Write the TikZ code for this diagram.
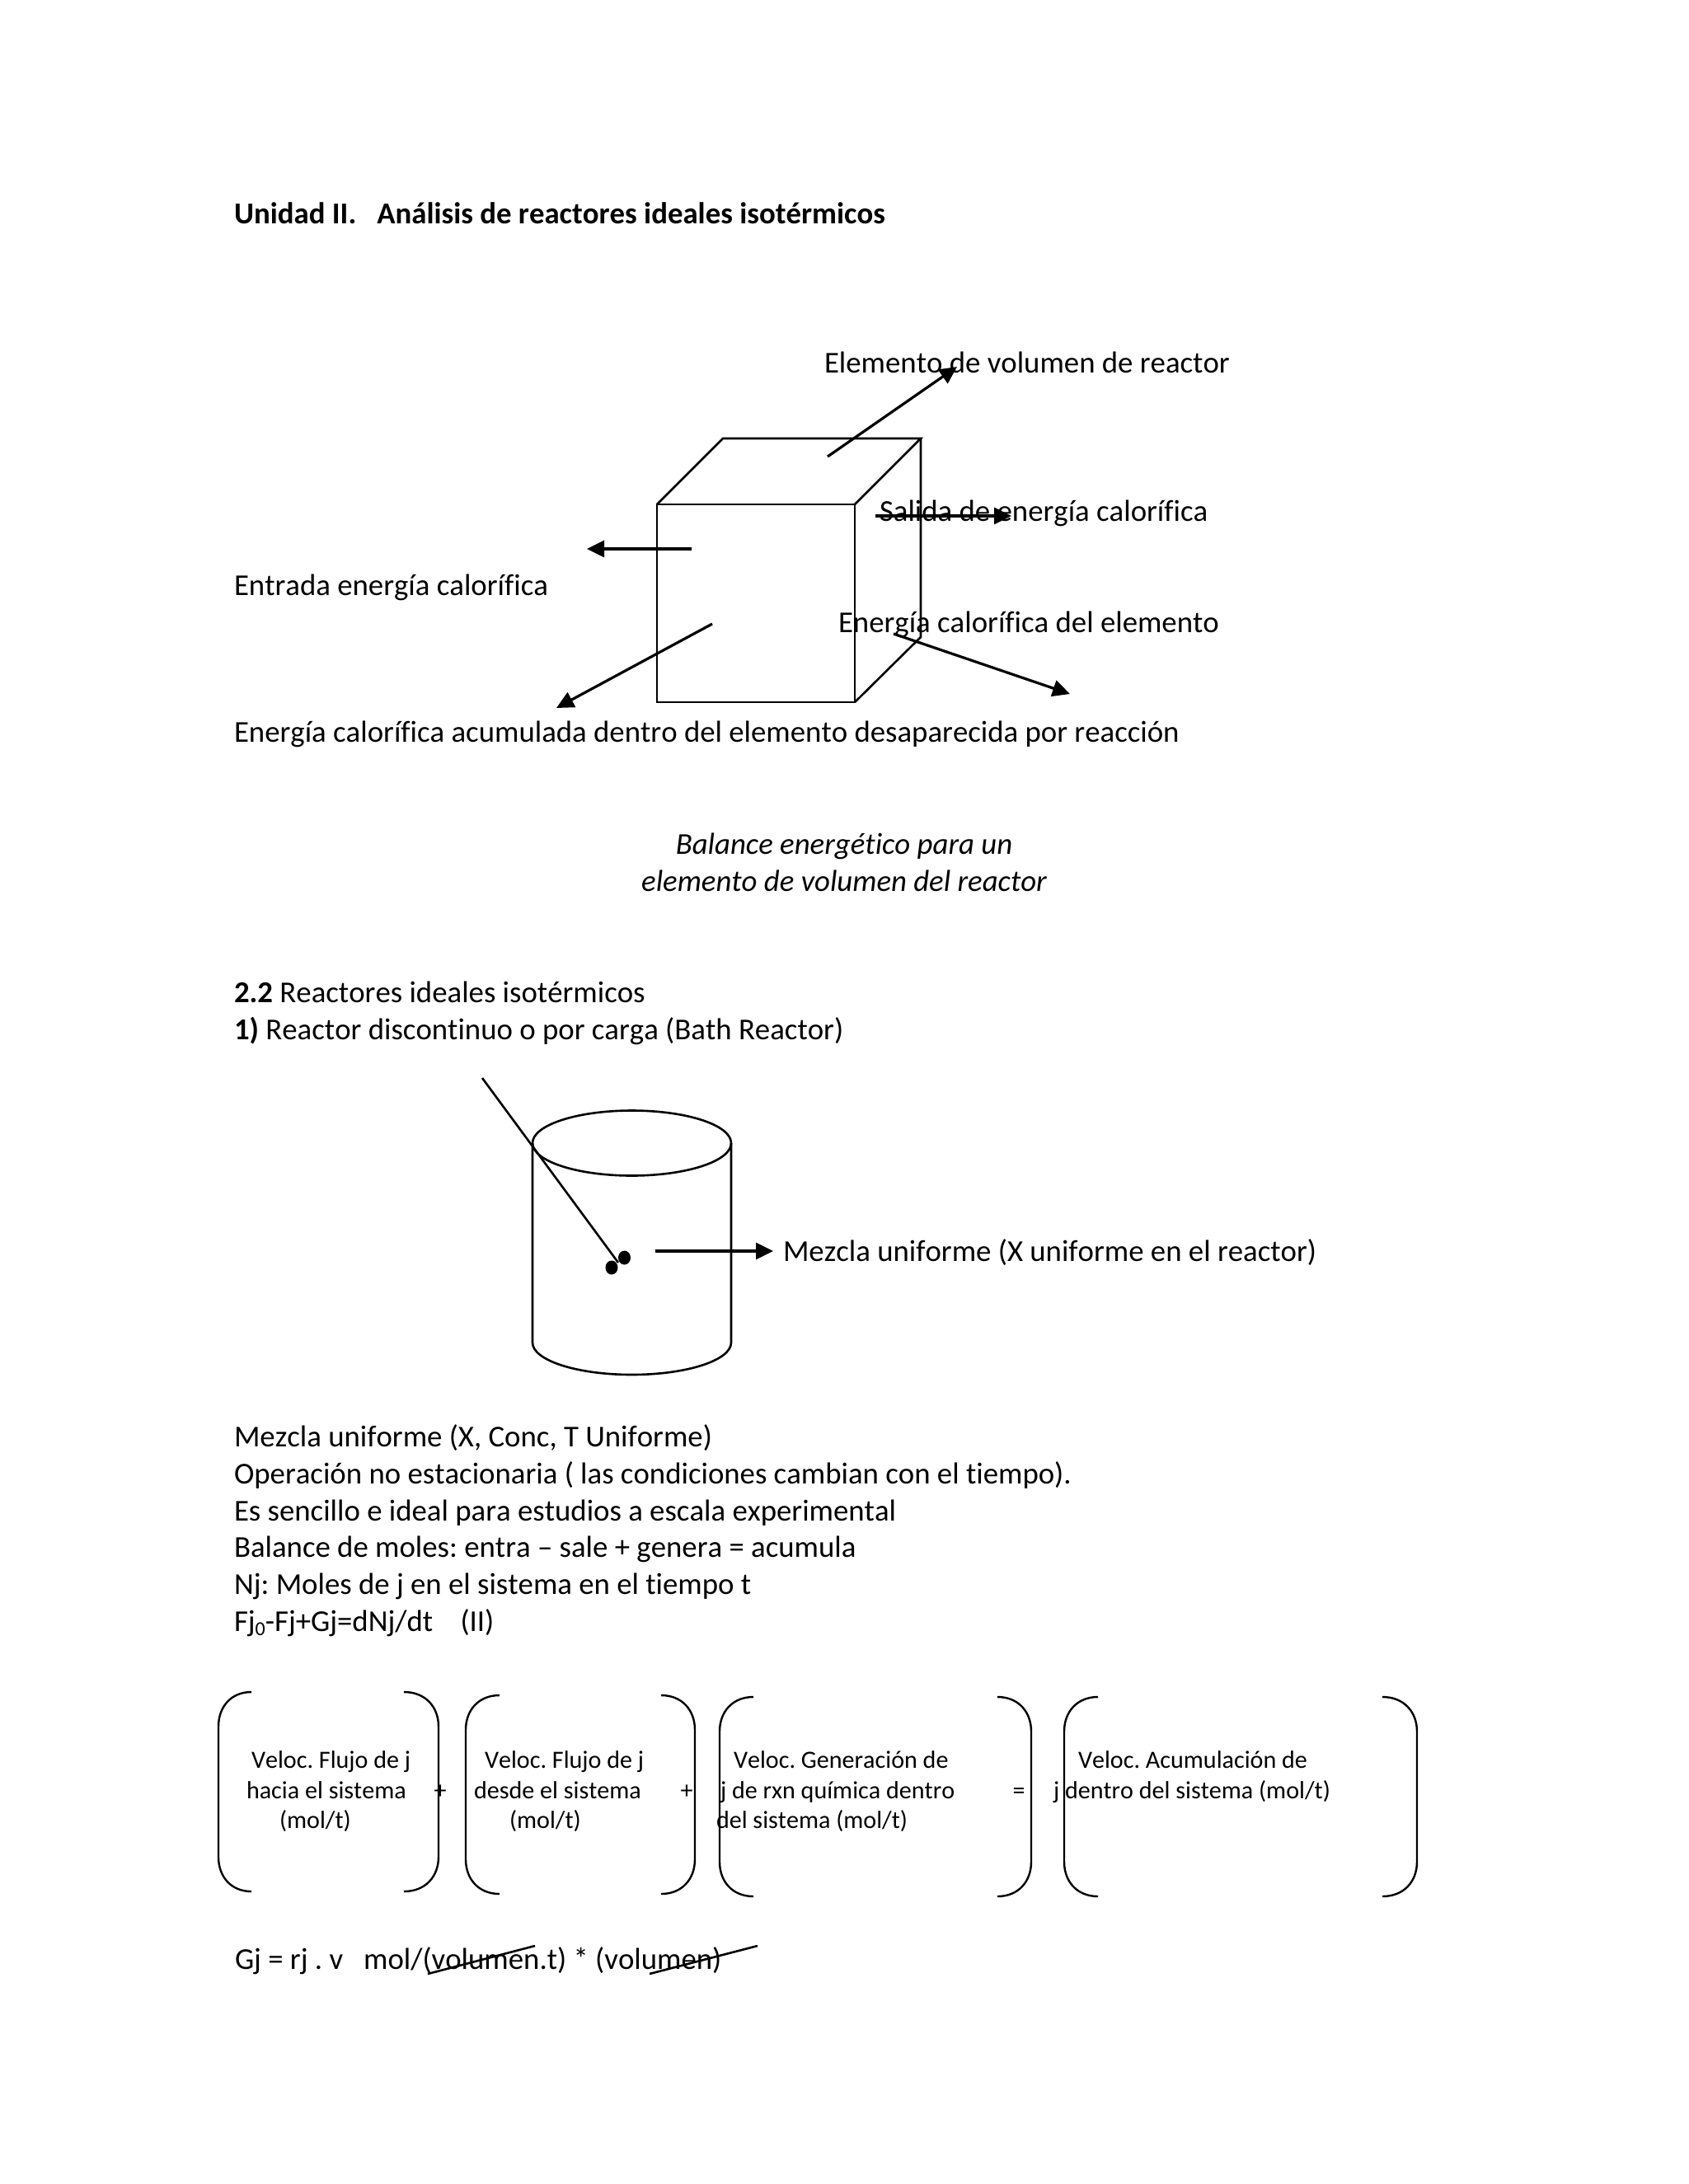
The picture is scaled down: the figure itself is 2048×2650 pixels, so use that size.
\documentclass[tikz,border=0pt]{standalone}
\usepackage{fontspec}
\setmainfont{Carlito}[Ligatures=CommonOff,Kerning=Off]
\usetikzlibrary{arrows.meta}
\newcommand{\bodysize}{\fontsize{36.8}{45}\selectfont\frenchspacing}
\newcommand{\boxsize}{\fontsize{30.1}{37}\selectfont\frenchspacing}
\newcommand{\brkt}[4]{% end x, extreme x, top y, bottom y
  \pgfmathsetmacro{\brmid}{#2+0.38*(#1-#2)}
  \draw[brline] (#1,#3) .. controls (\brmid,#3) and (#2,#3+18) .. (#2,#3+42)
    -- (#2,#4-42) .. controls (#2,#4-18) and (\brmid,#4) .. (#1,#4);}
\tikzset{
  x=1pt,y=-1pt,
  body/.style={anchor=base west,inner sep=0pt,outer sep=0pt,font=\bodysize},
  small/.style={anchor=base west,inner sep=0pt,outer sep=0pt,font=\boxsize},
  shape line/.style={draw=black,line width=2.6pt,line join=miter},
  brline/.style={draw=black,line width=2.4pt},
  arrowline/.style={draw=black,line width=3.2pt,-{Triangle[length=21pt,width=20pt]}},
  strike/.style={draw=black,line width=2.6pt},
  dot/.style={fill=black,draw=none},
}
\begin{document}
\begin{tikzpicture}
\useasboundingbox[fill=white] (0,0) rectangle (2048,2650);
% texts
\node[body] (title) at (284,271.5) {\bfseries Unidad II.\ \ \ Análisis de reactores ideales isotérmicos};
\node[body] (t1) at (1000,452) {Elemento de volumen de reactor};
\node[body] (t2) at (1067,632) {Salida de energía calorífica};
\node[body] (t3) at (284,722) {Entrada energía calorífica};
\node[body] (t4) at (1017,767) {Energía calorífica del elemento};
\node[body] (t5) at (284,900) {Energía calorífica acumulada dentro del elemento desaparecida por reacción};
\node[body,anchor=base] (c1) at (1024,1036) {\itshape Balance energético para un};
\node[body,anchor=base] (c2) at (1024,1081) {\itshape elemento de volumen del reactor};
\node[body] (h1) at (284,1216) {\textbf{2.2} Reactores ideales isotérmicos};
\node[body] (h2) at (284,1261) {\textbf{1)} Reactor discontinuo o por carga (Bath Reactor)};
\node[body] (m0) at (950,1530) {Mezcla uniforme (X uniforme en el reactor)};
\node[body] (l1) at (284,1755.5) {Mezcla uniforme (X, Conc, T Uniforme)};
\node[body] (l2) at (284,1800) {Operación no estacionaria ( las condiciones cambian con el tiempo).};
\node[body] (l3) at (284,1845) {Es sencillo e ideal para estudios a escala experimental};
\node[body] (l4) at (284,1889.5) {Balance de moles: entra – sale + genera = acumula};
\node[body] (l5) at (284,1934.5) {Nj: Moles de j en el sistema en el tiempo t};
\node[body] (l6) at (284,1979.5) {Fj\raisebox{-5pt}{\fontsize{24}{24}\selectfont 0}-Fj+Gj=dNj/dt\ \ \ \ (II)};
% box texts
\node[small] (a1) at (305,2145) {Veloc. Flujo de j};
\node[small] (a2) at (299,2182) {hacia el sistema};
\node[small] (a3) at (339,2218) {(mol/t)};
\node[small,anchor=base] (p1) at (534,2182) {+};
\node[small] (b1) at (588,2145) {Veloc. Flujo de j};
\node[small] (b2) at (575,2182) {desde el sistema};
\node[small] (b3) at (618,2218) {(mol/t)};
\node[small,anchor=base] (p2) at (833,2182) {+};
\node[small] (d1) at (890,2145) {Veloc. Generación de};
\node[small] (d2) at (874,2182) {j de rxn química dentro};
\node[small] (d3) at (869,2218) {del sistema (mol/t)};
\node[small,anchor=base] (eq) at (1236,2182) {=};
\node[small] (e1) at (1308,2145) {Veloc. Acumulación de};
\node[small] (e2) at (1278,2182) {j dentro del sistema (mol/t)};
\node[body] (gj) at (285,2389.5) {Gj = rj . v\ \ \ mol/(volumen.t) * (volumen)};
% cube
\draw[shape line] (797,612) rectangle (1037,852);
\draw[shape line] (797,612) -- (877,532) -- (1117,532) -- (1037,612);
\draw[shape line] (1117,532) -- (1117,773) -- (1037,852);
% cube arrows
\coordinate (a1s) at (1004,554); \coordinate (a1e) at (1161,445);
\coordinate (a2s) at (1062,626); \coordinate (a2e) at (1227,626);
\coordinate (a3s) at (839,666);  \coordinate (a3e) at (712,666);
\coordinate (a4s) at (864,757);  \coordinate (a4e) at (675,859);
\coordinate (a5s) at (1084,769); \coordinate (a5e) at (1298,842);
\draw[arrowline] (a1s) -- (a1e);
\draw[arrowline] (a2s) -- (a2e);
\draw[arrowline] (a3s) -- (a3e);
\draw[arrowline] (a4s) -- (a4e);
\draw[arrowline] (a5s) -- (a5e);
% cylinder
\draw[shape line] (766.5,1387) ellipse [x radius=120.5,y radius=39.5];
\draw[shape line] (646,1387) -- (646,1629) arc [start angle=180,end angle=360,x radius=120.5,y radius=-39] -- (887,1387);
\coordinate (st0) at (585,1308); \coordinate (st1) at (750,1532);
\draw[shape line] (st0) -- (st1);
\fill[dot] (757.5,1526) ellipse [x radius=7.5,y radius=8.5];
\fill[dot] (742,1538) ellipse [x radius=7.5,y radius=8.5];
\coordinate (m1s) at (795,1518); \coordinate (m1e) at (938,1518);
\draw[arrowline] (m1s) -- (m1e);
% brackets
\brkt{305}{265}{2053}{2295}
\brkt{490}{532}{2053}{2295}
\brkt{606}{565}{2057}{2298}
\brkt{802}{843}{2057}{2298}
\brkt{914}{873}{2059}{2301}
\brkt{1210}{1251}{2059}{2301}
\brkt{1332}{1291}{2059}{2301}
\brkt{1677}{1719}{2059}{2301}
% strikes
\coordinate (s1a) at (519,2395); \coordinate (s1b) at (649,2361);
\coordinate (s2a) at (788,2395); \coordinate (s2b) at (919,2361);
\draw[strike] (s1a) -- (s1b);
\draw[strike] (s2a) -- (s2b);
\end{tikzpicture}
\end{document}
